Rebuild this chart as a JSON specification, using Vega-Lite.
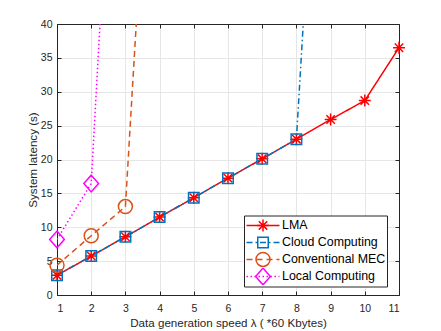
{
  "$schema": "https://vega.github.io/schema/vega-lite/v6.json",
  "autosize": "none",
  "width": 342,
  "height": 271,
  "padding": {"left": 57, "top": 24, "right": 42, "bottom": 36},
  "background": "white",
  "data": {"values": [
    {"x": 1, "y": 2.9, "s": "LMA"}, {"x": 2, "y": 5.75, "s": "LMA"}, {"x": 3, "y": 8.6, "s": "LMA"}, {"x": 4, "y": 11.5, "s": "LMA"}, {"x": 5, "y": 14.35, "s": "LMA"}, {"x": 6, "y": 17.25, "s": "LMA"}, {"x": 7, "y": 20.1, "s": "LMA"}, {"x": 8, "y": 23.0, "s": "LMA"}, {"x": 9, "y": 25.9, "s": "LMA"}, {"x": 10, "y": 28.7, "s": "LMA"}, {"x": 11, "y": 36.5, "s": "LMA"},
    {"x": 1, "y": 2.9, "s": "Cloud Computing"}, {"x": 2, "y": 5.75, "s": "Cloud Computing"}, {"x": 3, "y": 8.6, "s": "Cloud Computing"}, {"x": 4, "y": 11.5, "s": "Cloud Computing"}, {"x": 5, "y": 14.35, "s": "Cloud Computing"}, {"x": 6, "y": 17.25, "s": "Cloud Computing"}, {"x": 7, "y": 20.1, "s": "Cloud Computing"}, {"x": 8, "y": 23.0, "s": "Cloud Computing"}, {"x": 9, "y": 108, "s": "Cloud Computing"},
    {"x": 1, "y": 4.4, "s": "Conventional MEC"}, {"x": 2, "y": 8.75, "s": "Conventional MEC"}, {"x": 3, "y": 13.05, "s": "Conventional MEC"}, {"x": 4, "y": 98, "s": "Conventional MEC"},
    {"x": 1, "y": 8.2, "s": "Local Computing"}, {"x": 2, "y": 16.45, "s": "Local Computing"}, {"x": 3, "y": 108, "s": "Local Computing"}
  ]},
  "layer": [
    {
      "mark": {"type": "line", "clip": true, "strokeWidth": 1.5},
      "encoding": {
        "x": {"field": "x", "type": "quantitative", "scale": {"domain": [1, 11], "nice": false, "zero": false},
          "axis": {"orient": "bottom", "values": [1,2,3,4,5,6,7,8,9,10,11], "title": "Data generation speed λ ( *60 Kbytes)", "grid": true, "labelPadding": 12, "titlePadding": 4}},
        "y": {"field": "y", "type": "quantitative", "scale": {"domain": [0, 40], "nice": false},
          "axis": {"orient": "left", "values": [0,5,10,15,20,25,30,35,40], "title": "System latency (s)", "grid": true, "labelPadding": 9, "titlePadding": 2}},
        "color": {"field": "s", "type": "nominal",
          "scale": {"domain": ["LMA", "Cloud Computing", "Conventional MEC", "Local Computing"], "range": ["#FF0000", "#0072BD", "#D95319", "#FF00FF"]},
          "legend": {"title": null, "orient": "none", "legendX": 187, "legendY": 191.5, "clipHeight": 16.9, "padding": 1.5,
            "symbolType": "stroke", "symbolSize": 1089, "symbolStrokeWidth": 1.5, "labelOffset": 1.5,
            "strokeColor": "#262626", "fillColor": "white", "zindex": 1}
        },
        "strokeDash": {"field": "s", "type": "nominal",
          "scale": {"domain": ["LMA", "Cloud Computing", "Conventional MEC", "Local Computing"], "range": [[1, 0], [6, 3, 1.5, 3], [6, 4], [1.5, 2.5]]},
          "legend": {"title": null, "orient": "none", "legendX": 187, "legendY": 191.5, "clipHeight": 16.9, "padding": 1.5,
            "symbolType": "stroke", "symbolSize": 1089, "symbolStrokeWidth": 1.5, "labelOffset": 1.5,
            "strokeColor": "#262626", "fillColor": "white", "zindex": 1}}
      }
    },
    {
      "transform": [{"filter": "datum.y <= 40"}],
      "mark": {"type": "point", "filled": false, "strokeWidth": 1.5, "size": 196, "opacity": 1},
      "encoding": {
        "x": {"field": "x", "type": "quantitative", "scale": {"domain": [1, 11], "nice": false, "zero": false},
          "axis": {"orient": "top", "values": [1,2,3,4,5,6,7,8,9,10,11], "labels": false, "title": null, "grid": false}},
        "y": {"field": "y", "type": "quantitative", "scale": {"domain": [0, 40], "nice": false},
          "axis": {"orient": "right", "values": [0,5,10,15,20,25,30,35,40], "labels": false, "title": null, "grid": false}},
        "color": {"field": "s", "type": "nominal",
          "scale": {"domain": ["LMA", "Cloud Computing", "Conventional MEC", "Local Computing"], "range": ["#FF0000", "#0072BD", "#D95319", "#FF00FF"]},
          "legend": {"title": null, "orient": "none", "legendX": 187, "legendY": 191.5, "clipHeight": 16.9, "padding": 1.5,
            "symbolSize": 196, "symbolStrokeWidth": 1.5, "symbolOffset": 9.5, "labelExpr": "''",
            "zindex": 2}},
        "shape": {"field": "s", "type": "nominal",
          "scale": {"domain": ["LMA", "Cloud Computing", "Conventional MEC", "Local Computing"], "range": ["M-0.85,0H0.85M0,-0.85V0.85M-0.6,-0.6L0.6,0.6M-0.6,0.6L0.6,-0.6", "M-0.75,-0.75H0.75V0.75H-0.75Z", "circle", "M0,-1.2L1.05,0L0,1.2L-1.05,0Z"]},
          "legend": {"title": null, "orient": "none", "legendX": 187, "legendY": 191.5, "clipHeight": 16.9, "padding": 1.5,
            "symbolSize": 196, "symbolStrokeWidth": 1.5, "symbolOffset": 9.5, "labelExpr": "''",
            "zindex": 2}}
      }
    }
  ],
  "resolve": {"axis": {"x": "independent", "y": "independent"}, "legend": {"color": "independent", "shape": "independent", "strokeDash": "independent"}},
  "config": {
    "font": "Liberation Sans",
    "view": {"stroke": "#262626", "strokeWidth": 1},
    "axis": {
      "domainColor": "#262626", "domainWidth": 1,
      "tickColor": "#262626", "tickSize": -4, "tickWidth": 1,
      "labelColor": "#262626", "labelFontSize": 10.5, "labelFont": "Liberation Sans",
      "titleColor": "#262626", "titleFontSize": 11.6, "titleFontWeight": "normal", "titleFont": "Liberation Sans",
      "gridColor": "#e6e6e6", "gridWidth": 1,
      "labelPadding": 10, "titlePadding": 6
    },
    "legend": {
      "cornerRadius": 0,
      "labelFontSize": 12.4, "labelColor": "black", "labelFont": "Liberation Sans",
      "rowPadding": 0
    }
  }
}
